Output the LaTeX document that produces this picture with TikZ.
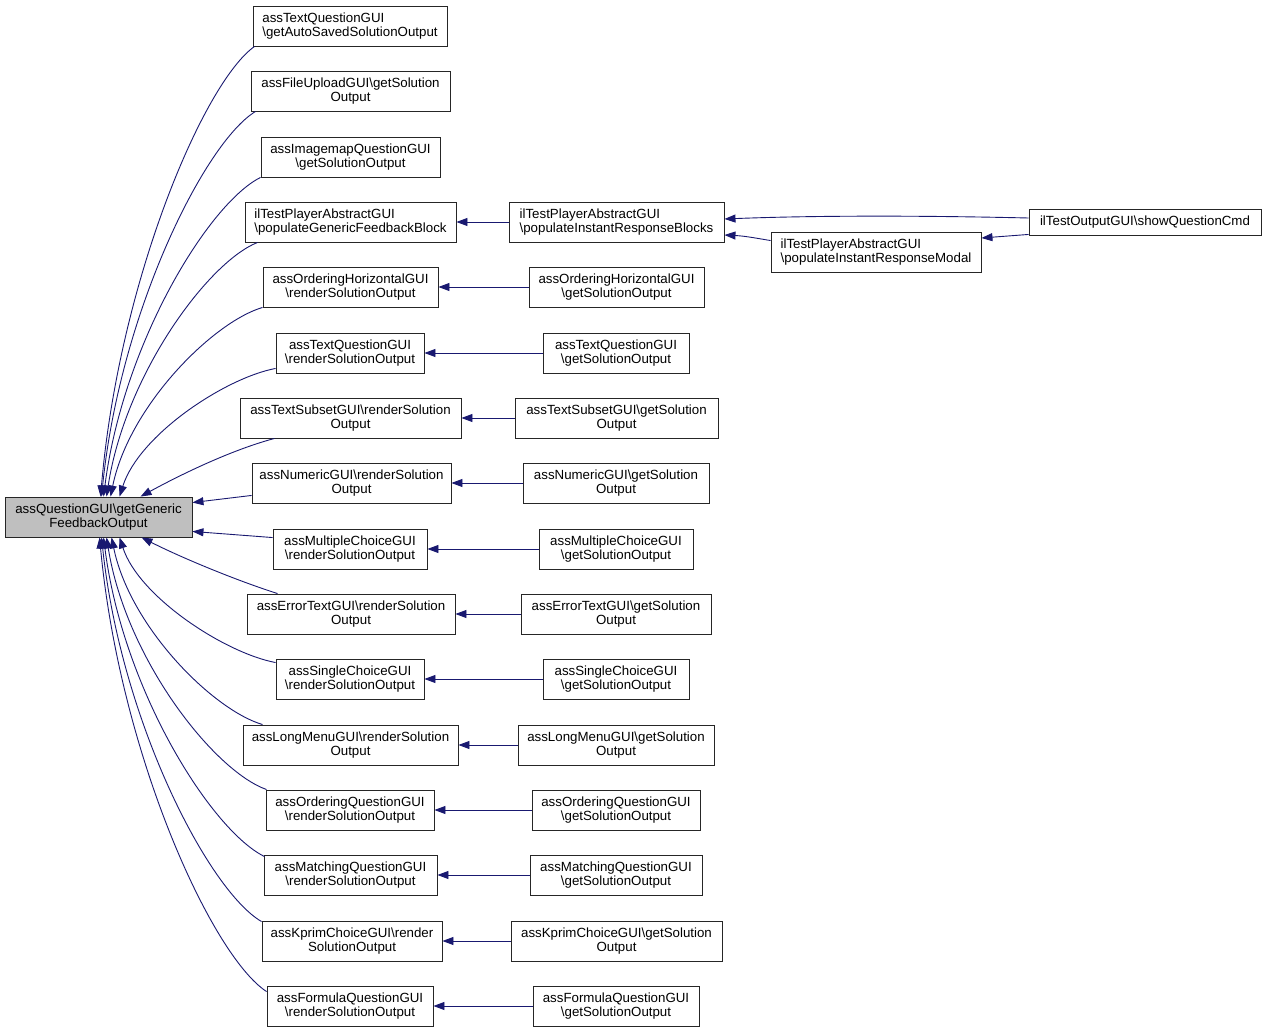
\documentclass[tikz,border=0pt]{standalone}
\usepackage{fontspec}
\setmainfont{Liberation Sans}
\usetikzlibrary{arrows.meta,calc}
\definecolor{edgeblue}{HTML}{191970}
\definecolor{maingray}{HTML}{BFBFBF}
\newcommand{\bs}{\textbackslash}
\begin{document}
\begin{tikzpicture}[x=1pt,y=-1pt,
  box/.style={draw=black!85,line width=0.9pt,fill=white,minimum height=40pt,inner sep=0pt,align=center,font=\fontsize{13.3}{14.5}\selectfont},
  lbox/.style={box,align=left},
  edge/.style={draw=edgeblue,line width=0.9pt,-{Triangle[length=11pt,width=8pt]}}]
\useasboundingbox (0,0) rectangle (1267,1032);
% main node
\node[box,fill=maingray,minimum width=187pt] (main) at (98.5,517) {assQuestionGUI\bs getGeneric\\FeedbackOutput};
% column 2
\node[lbox,minimum width=194pt] (n1) at (350,26) {assTextQuestionGUI\\\bs getAutoSavedSolutionOutput};
\node[box,minimum width=199pt] (n2) at (350.5,91) {assFileUploadGUI\bs getSolution\\Output};
\node[box,minimum width=179pt] (n3) at (350.5,157) {assImagemapQuestionGUI\\\bs getSolutionOutput};
\node[lbox,minimum width=211pt] (n4) at (350.5,222) {ilTestPlayerAbstractGUI\\\bs populateGenericFeedbackBlock};
\node[box,minimum width=175pt] (n5) at (350.5,287) {assOrderingHorizontalGUI\\\bs renderSolutionOutput};
\node[box,minimum width=148pt] (n6) at (350,353) {assTextQuestionGUI\\\bs renderSolutionOutput};
\node[box,minimum width=221pt] (n7) at (350.5,418) {assTextSubsetGUI\bs renderSolution\\Output};
\node[box,minimum width=199pt] (n8) at (351.5,483) {assNumericGUI\bs renderSolution\\Output};
\node[box,minimum width=154pt] (n9) at (350,549) {assMultipleChoiceGUI\\\bs renderSolutionOutput};
\node[box,minimum width=208pt] (n10) at (351,614) {assErrorTextGUI\bs renderSolution\\Output};
\node[box,minimum width=148pt] (n11) at (350,679) {assSingleChoiceGUI\\\bs renderSolutionOutput};
\node[box,minimum width=215pt] (n12) at (350.5,745) {assLongMenuGUI\bs renderSolution\\Output};
\node[box,minimum width=168pt] (n13) at (350,810) {assOrderingQuestionGUI\\\bs renderSolutionOutput};
\node[box,minimum width=173pt] (n14) at (350.5,875) {assMatchingQuestionGUI\\\bs renderSolutionOutput};
\node[box,minimum width=180pt] (n15) at (352,941) {assKprimChoiceGUI\bs render\\SolutionOutput};
\node[box,minimum width=166pt] (n16) at (350,1006) {assFormulaQuestionGUI\\\bs renderSolutionOutput};
% column 3
\node[lbox,minimum width=215pt] (m4) at (616.5,222) {ilTestPlayerAbstractGUI\\\bs populateInstantResponseBlocks};
\node[box,minimum width=175pt] (m5) at (616.5,287) {assOrderingHorizontalGUI\\\bs getSolutionOutput};
\node[box,minimum width=146pt] (m6) at (616,353) {assTextQuestionGUI\\\bs getSolutionOutput};
\node[box,minimum width=203pt] (m7) at (616.5,418) {assTextSubsetGUI\bs getSolution\\Output};
\node[box,minimum width=186pt] (m8) at (616,483) {assNumericGUI\bs getSolution\\Output};
\node[box,minimum width=154pt] (m9) at (616,549) {assMultipleChoiceGUI\\\bs getSolutionOutput};
\node[box,minimum width=190pt] (m10) at (616,614) {assErrorTextGUI\bs getSolution\\Output};
\node[box,minimum width=146pt] (m11) at (616,679) {assSingleChoiceGUI\\\bs getSolutionOutput};
\node[box,minimum width=196pt] (m12) at (616,745) {assLongMenuGUI\bs getSolution\\Output};
\node[box,minimum width=168pt] (m13) at (616,810) {assOrderingQuestionGUI\\\bs getSolutionOutput};
\node[box,minimum width=172pt] (m14) at (616,875) {assMatchingQuestionGUI\\\bs getSolutionOutput};
\node[box,minimum width=211pt] (m15) at (616.5,941) {assKprimChoiceGUI\bs getSolution\\Output};
\node[box,minimum width=166pt] (m16) at (616,1006) {assFormulaQuestionGUI\\\bs getSolutionOutput};
% columns 4, 5
\node[lbox,minimum width=210pt] (modal) at (876,252) {ilTestPlayerAbstractGUI\\\bs populateInstantResponseModal};
\node[box,minimum width=232pt,minimum height=26pt] (show) at (1145,222) {ilTestOutputGUI\bs showQuestionCmd};
% edges to main (upper)
\draw[edge] ($(n1.south west)+(2,0)$) .. controls (204,82) and (119,281) .. ($(main.north west)+(96,0)$);
\draw[edge] ($(n2.south west)+(5,0)$) .. controls (205,142) and (120,312) .. ($(main.north west)+(97,0)$);
\draw[edge] (n3.south west) .. controls (209,203) and (123,343) .. ($(main.north west)+(99,0)$);
\draw[edge] ($(n4.south west)+(13,0)$) .. controls (208,262) and (125,375) .. ($(main.north west)+(102,0)$);
\draw[edge] (n5.south west) .. controls (213,322) and (129,406) .. ($(main.north west)+(106,0)$);
\draw[edge] ($(n6.south west)+(0,-5)$) .. controls (225,378) and (139,435) .. ($(main.north west)+(115,0)$);
\draw[edge] ($(n7.south west)+(35,0)$) .. controls (231,450) and (180,475) .. ($(main.north west)+(136,0)$);
\draw[edge] ($(n8.south west)+(0,-8)$) -- ($(main.north east)+(0,6)$);
\draw[edge] ($(n9.north west)+(0,9)$) -- ($(main.south east)+(0,-6)$);
% edges to main (lower)
\draw[edge] ($(n10.north west)+(31,0)$) .. controls (235,580) and (180,557) .. ($(main.south west)+(137,0)$);
\draw[edge] ($(n11.north west)+(0,4)$) .. controls (225,653) and (139,597) .. ($(main.south west)+(115,0)$);
\draw[edge] ($(n12.north west)+(20,0)$) .. controls (213,710) and (130,627) .. ($(main.south west)+(107,0)$);
\draw[edge] ($(n13.north west)+(1,0)$) .. controls (214,771) and (126,659) .. ($(main.south west)+(102,0)$);
\draw[edge] ($(n14.north west)+(1,2)$) .. controls (212,831) and (123,691) .. ($(main.south west)+(99,0)$);
\draw[edge] ($(n15.north west)+(0,1)$) .. controls (209,891) and (121,722) .. ($(main.south west)+(97,0)$);
\draw[edge] ($(n16.north west)+(0,6)$) .. controls (212,956) and (120,755) .. ($(main.south west)+(95,0)$);
% column 3 to column 2
\foreach \k in {4,5,...,16} {\draw[edge] (m\k.west) -- (n\k.east);}
% right part
\draw[edge] ($(show.west)+(0,-4)$) .. controls (900,215) and (800,216) .. ($(m4.east)+(0,-3)$);
\draw[edge] ($(modal.north west)+(0,9)$) .. controls (755,238) and (745,236) .. ($(m4.east)+(0,13)$);
\draw[edge] ($(show.south west)+(0,-1)$) -- ($(modal.east)+(0,-14)$);
\end{tikzpicture}
\end{document}
